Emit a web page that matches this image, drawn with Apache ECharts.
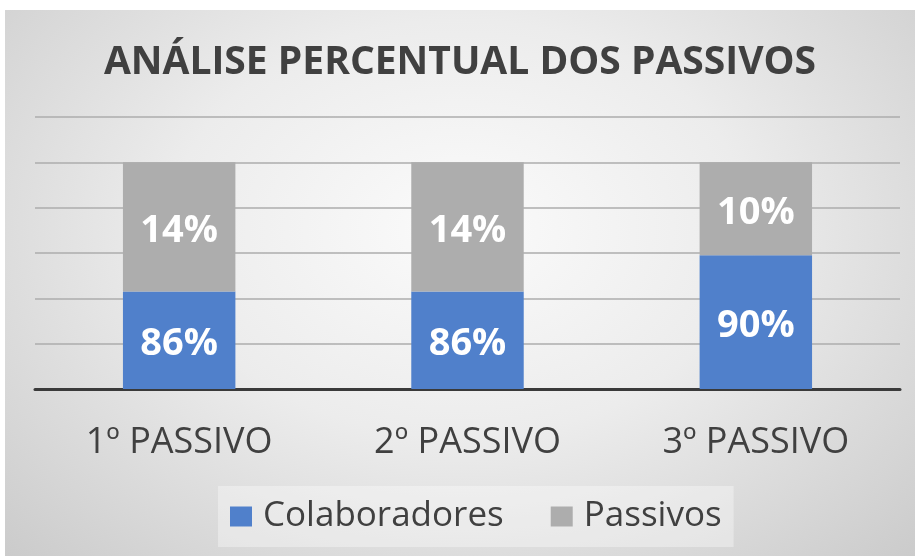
<!DOCTYPE html>
<html>
<head>
<meta charset="utf-8">
<script src="https://cdn.jsdelivr.net/npm/echarts@6/dist/echarts.min.js"></script>
<style>
html, body { margin: 0; padding: 0; background: #ffffff; }
#chart {
  position: absolute; left: 5px; top: 10px; width: 910px; height: 546px;
  background: radial-gradient(ellipse at 50% 40%, #fbfbfb 0%, #ececec 45%, #cbcbcb 100%);
}
</style>
</head>
<body>
<div id="chart"></div>
<script>
var categories = ['1º PASSIVO', '2º PASSIVO', '3º PASSIVO'];
// bar heights as drawn (axis units), and the labels printed on them
var colaboradores = [2.15, 2.15, 2.95];
var passivos = [2.85, 2.85, 2.05];
var colabLabels = ['86%', '86%', '90%'];
var passLabels = ['14%', '14%', '10%'];

var font = '"Open Sans", sans-serif';
var myChart = echarts.init(document.getElementById('chart'));

var option = {
  backgroundColor: 'transparent',
  title: {
    text: 'ANÁLISE PERCENTUAL DOS PASSIVOS',
    left: 'center',
    top: 28,
    textStyle: { fontFamily: font, fontSize: 39, fontWeight: 'bold', color: '#404040' }
  },
  legend: {
    data: ['Colaboradores', 'Passivos'],
    icon: 'rect',
    bottom: 9,
    left: 213,
    padding: [13, 12],
    itemGap: 47,
    itemWidth: 22,
    itemHeight: 20,
    backgroundColor: 'rgba(255,255,255,0.35)',
    textStyle: { fontFamily: font, fontSize: 35, color: '#404040', padding: [0, 0, 0, 6] }
  },
  grid: { left: 30, right: 15, top: 107, bottom: 167 },
  xAxis: {
    type: 'category',
    data: categories,
    axisLine: { lineStyle: { color: '#3a3a3a', width: 3 } },
    axisTick: { show: false },
    axisLabel: { fontFamily: font, fontSize: 36, color: '#404040', margin: 36 }
  },
  yAxis: {
    type: 'value',
    min: 0,
    max: 6,
    interval: 1,
    axisLabel: { show: false },
    axisLine: { show: false },
    splitLine: { lineStyle: { color: '#adadad', width: 1.5 } }
  },
  series: [
    {
      name: 'Colaboradores',
      type: 'bar',
      stack: 'total',
      barWidth: '39%',
      data: colaboradores,
      itemStyle: { color: '#5080cb' },
      label: {
        show: true, position: 'inside', offset: [0, 4],
        formatter: function (p) { return colabLabels[p.dataIndex]; },
        fontFamily: font, fontSize: 38, fontWeight: 'bold', color: '#ffffff'
      }
    },
    {
      name: 'Passivos',
      type: 'bar',
      stack: 'total',
      data: passivos,
      itemStyle: { color: '#adadad' },
      label: {
        show: true, position: 'inside', offset: [0, 4],
        formatter: function (p) { return passLabels[p.dataIndex]; },
        fontFamily: font, fontSize: 38, fontWeight: 'bold', color: '#ffffff'
      }
    }
  ]
};
myChart.setOption(option);
</script>
</body>
</html>
